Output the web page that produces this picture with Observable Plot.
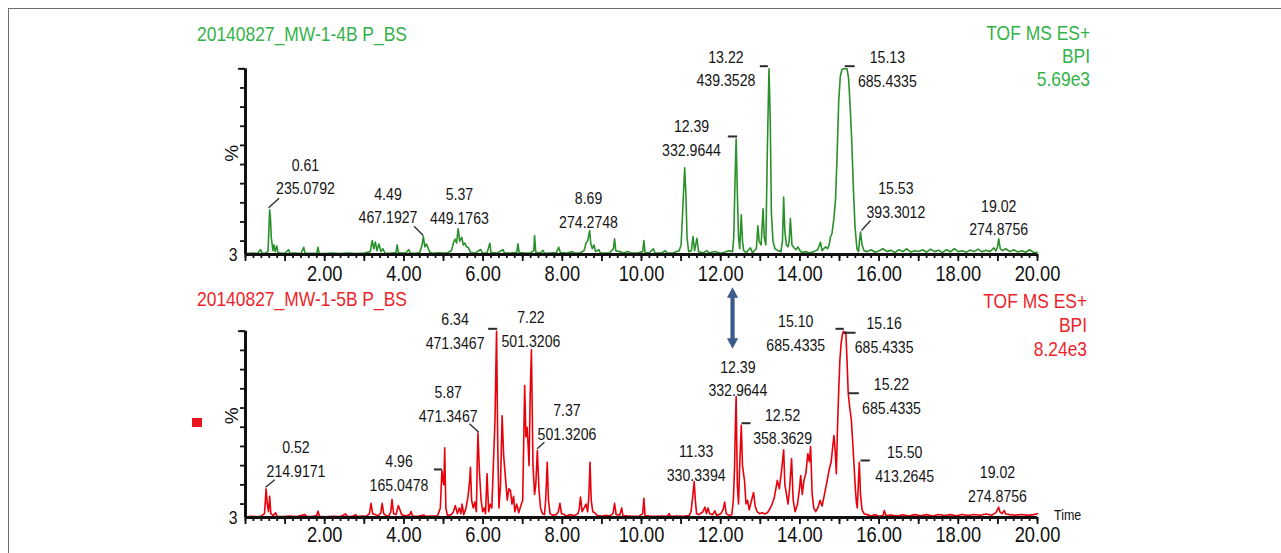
<!DOCTYPE html>
<html>
<head>
<meta charset="utf-8">
<script src="https://cdn.jsdelivr.net/npm/d3@7"></script>
<script src="https://cdn.jsdelivr.net/npm/@observablehq/plot@0.6"></script>
<style>
  html, body { margin: 0; padding: 0; background: #fff; }
  #wrap { position: relative; width: 1281px; height: 553px; overflow: hidden; background: #fff;
          font-family: "Liberation Sans", Arial, sans-serif; }
  .abs { position: absolute; white-space: nowrap; }
  .cl { transform: scaleX(0.83); transform-origin: left center; }
  .cr { transform: scaleX(0.83); transform-origin: right center; }
  #frame { position: absolute; left: 8px; top: 8px; width: 1400px; height: 700px;
           border-left: 1.5px solid #6e6e6e; border-top: 1.5px solid #6e6e6e; pointer-events: none; }
</style>
</head>
<body>
<div id="wrap">
  <div id="top" class="abs" style="left:0;top:0"></div>
  <div id="bot" class="abs" style="left:0;top:280px"></div>
  <div class="abs cl" style="left:197px;top:22px;font-size:21px;line-height:24px;color:#33b24a">20140827_MW-1-4B P_BS</div>
  <div class="abs cr" style="right:191px;top:20.8px;font-size:21px;line-height:23.35px;color:#33b24a;text-align:right">TOF MS ES+<br>BPI<br>5.69e3</div>
  <div class="abs cl" style="left:197px;top:287px;font-size:21px;line-height:24px;color:#ee1f2a">20140827_MW-1-5B P_BS</div>
  <div class="abs cr" style="right:194px;top:288.7px;font-size:21px;line-height:24.25px;color:#ee1f2a;text-align:right">TOF MS ES+<br>BPI<br>8.24e3</div>
  <div class="abs" style="left:192px;top:418px;width:10px;height:9px;background:#e8141e"></div>
  <div class="abs cl" style="left:1054px;top:507.5px;font-size:15px;line-height:13px;color:#111">Time</div>
  <div id="frame"></div>
</div>
<script>
// ---------- DATA ----------
// Sample 1 (MW-1-4B) BPI trace: [retention time (min), relative intensity (%)]
const greenTrace = [
 [0.00,3.5],[0.20,3.8],[0.30,3.5],[0.38,5.6],[0.42,3.6],[0.50,3.8],[0.57,4.5],[0.61,26.4],[0.63,22],[0.65,12],
 [0.67,9],[0.69,5],[0.72,8],[0.75,4.5],[0.79,7.5],[0.82,4],[0.90,3.6],[1.00,3.8],[1.09,5.5],[1.12,3.6],
 [1.25,3.8],[1.40,3.5],[1.47,6.8],[1.50,3.8],[1.65,3.6],[1.80,3.8],[1.83,6.8],[1.86,3.6],[2.00,3.5],[2.20,3.8],
 [2.40,3.5],[2.60,3.7],[2.80,3.5],[3.00,3.8],[3.15,4.5],[3.20,10.3],[3.24,6],[3.28,9.5],[3.32,5],[3.37,8.5],
 [3.42,4.5],[3.47,6],[3.52,3.8],[3.65,3.6],[3.80,4],[3.83,8],[3.86,4],[3.95,3.7],[4.05,3.9],[4.12,5.5],
 [4.16,3.8],[4.30,3.6],[4.40,4],[4.46,8],[4.49,12.4],[4.53,7],[4.57,8.5],[4.62,6],[4.66,4],[4.75,3.6],
 [4.85,3.9],[5.00,3.7],[5.10,3.9],[5.20,5],[5.25,9],[5.29,11],[5.33,9],[5.37,16.4],[5.41,10],[5.46,12],
 [5.50,8],[5.54,9],[5.58,7],[5.63,6.5],[5.68,4.2],[5.80,3.7],[5.94,5.6],[5.98,3.8],[6.10,3.9],[6.17,8.9],
 [6.20,4],[6.35,3.7],[6.50,5.5],[6.54,3.8],[6.70,3.7],[6.85,4.2],[6.88,8.6],[6.91,4],[7.05,3.7],[7.20,3.9],
 [7.28,5],[7.30,12.9],[7.33,4.2],[7.45,3.8],[7.51,5.2],[7.55,3.6],[7.70,3.8],[7.85,4],[7.91,6.8],[7.95,4],
 [8.10,3.7],[8.25,4.5],[8.30,3.8],[8.45,3.9],[8.55,5],[8.60,9],[8.64,10],[8.69,15.5],[8.72,8.5],[8.76,6],
 [8.80,8],[8.84,4.5],[8.92,5.5],[8.96,3.8],[9.10,3.7],[9.20,3.9],[9.29,6],[9.32,11.2],[9.35,5],[9.45,4.5],
 [9.55,3.8],[9.65,4.6],[9.75,3.7],[9.90,3.8],[10.03,4.5],[10.06,10.3],[10.09,4],[10.20,3.9],[10.30,6],[10.34,3.8],
 [10.50,3.7],[10.60,5],[10.64,3.8],[10.80,3.9],[10.95,5],[11.00,8],[11.05,30],[11.09,48.3],[11.12,35],[11.15,12],
 [11.19,4.5],[11.26,5],[11.30,12.4],[11.34,5],[11.40,11.5],[11.44,4.5],[11.55,3.8],[11.65,5],[11.70,3.8],[11.85,4.6],
 [12.00,3.7],[12.10,4.2],[12.20,5],[12.30,4.5],[12.33,12],[12.36,40],[12.39,63.5],[12.42,35],[12.45,12],[12.48,6],
 [12.52,23.7],[12.55,10],[12.58,5],[12.65,4],[12.75,6.5],[12.80,4],[12.90,6],[12.94,18],[12.97,10],[13.02,8],
 [13.07,26.9],[13.10,12],[13.14,8],[13.18,60],[13.22,100],[13.25,75],[13.28,25],[13.32,10],[13.37,6],[13.45,5],
 [13.52,4.5],[13.56,10],[13.59,33],[13.62,15],[13.66,8],[13.70,7],[13.73,10],[13.76,21.8],[13.80,8],[13.85,6.5],
 [13.90,5.5],[13.95,7],[14.00,5],[14.05,4],[14.15,4.5],[14.25,3.8],[14.35,4.5],[14.45,5.5],[14.52,9.4],[14.56,5],
 [14.60,6],[14.65,7],[14.70,6],[14.74,8],[14.77,12],[14.81,14],[14.86,22],[14.90,32],[14.94,55],[14.98,83],
 [15.02,96],[15.06,99.5],[15.10,100],[15.15,100],[15.19,100],[15.23,95],[15.27,80],[15.31,62],[15.35,38],[15.39,18],
 [15.44,6],[15.48,4.5],[15.50,9],[15.53,14.7],[15.57,8],[15.62,5],[15.70,4.5],[15.80,5.5],[15.90,4.2],[16.00,5],
 [16.10,6],[16.20,4.5],[16.30,5.2],[16.40,4],[16.50,5.5],[16.60,4.5],[16.70,6],[16.80,4.3],[16.90,5],[17.00,4.6],
 [17.10,5.5],[17.20,4.2],[17.30,5.8],[17.40,4.5],[17.50,5.2],[17.60,4],[17.70,5.5],[17.80,4.4],[17.90,6],[18.00,4.5],
 [18.10,5],[18.20,4.2],[18.30,5.3],[18.40,4.5],[18.50,5.8],[18.60,4.4],[18.70,5.2],[18.80,4.5],[18.90,6.5],[18.95,4.8],
 [18.99,7],[19.02,11.2],[19.06,6],[19.12,5],[19.20,6],[19.30,4.5],[19.40,5.5],[19.50,4.3],[19.60,5],[19.70,4.2],
 [19.80,5.5],[19.90,4.2],[20.00,4]
];
// Sample 2 (MW-1-5B) BPI trace
const redTrace = [
 [0.00,3.3],[0.15,3.6],[0.30,3.4],[0.40,3.8],[0.48,5],[0.52,17.9],[0.55,10],[0.58,6],[0.61,14.1],[0.64,5],
 [0.70,4],[0.76,5.4],[0.80,3.6],[0.95,3.5],[1.10,3.7],[1.30,3.5],[1.50,4.5],[1.55,3.5],[1.70,3.6],[1.80,4],
 [1.83,6.3],[1.87,3.6],[2.00,3.4],[2.20,3.6],[2.40,3.5],[2.53,4.8],[2.57,3.5],[2.70,3.6],[2.78,4.5],[2.82,3.5],
 [2.95,3.7],[3.05,3.6],[3.13,5],[3.17,10.4],[3.21,5],[3.28,4.5],[3.35,3.8],[3.42,5.5],[3.45,10.4],[3.49,5],
 [3.55,4],[3.62,3.8],[3.67,6],[3.70,12.4],[3.74,5],[3.80,4.5],[3.86,9.2],[3.90,7],[3.94,4.5],[4.05,3.8],
 [4.15,4.5],[4.18,6.1],[4.22,3.7],[4.35,3.6],[4.50,4.3],[4.55,3.6],[4.70,3.7],[4.85,3.8],[4.92,8],[4.96,27.5],
 [4.99,22],[5.01,20],[5.03,39.3],[5.06,8],[5.10,4],[5.20,4.5],[5.25,6],[5.30,9.2],[5.35,5],[5.40,8],
 [5.44,5],[5.47,10],[5.51,4.5],[5.57,8],[5.62,14],[5.66,22],[5.68,29.2],[5.71,12],[5.75,8],[5.79,11],
 [5.83,6],[5.85,30],[5.87,47],[5.91,25.8],[5.95,12],[5.99,6],[6.03,8],[6.06,5],[6.10,25.7],[6.14,6],
 [6.18,10],[6.22,8],[6.25,25],[6.30,53.5],[6.34,100],[6.37,40],[6.40,8],[6.44,20],[6.48,56],[6.52,35],
 [6.57,22.3],[6.61,12],[6.65,18],[6.69,17],[6.73,10],[6.77,14],[6.80,6],[6.85,10],[6.90,5.5],[6.95,9],
 [7.00,12],[7.05,71.7],[7.08,45],[7.11,50],[7.14,39.6],[7.16,30],[7.19,67.4],[7.22,90.3],[7.26,30],[7.30,15],
 [7.33,20],[7.37,37.9],[7.41,18],[7.45,8],[7.50,5],[7.55,4.5],[7.58,12],[7.62,31.8],[7.65,12],[7.69,5],
 [7.75,4.2],[7.85,4.5],[7.90,6],[7.94,10.4],[7.98,5],[8.05,4.5],[8.10,3.8],[8.20,4.5],[8.30,3.9],[8.40,5],
 [8.43,8],[8.46,13.6],[8.50,6],[8.55,8],[8.60,10],[8.64,6],[8.67,14],[8.70,31.8],[8.73,12],[8.77,6],
 [8.82,5.5],[8.88,4],[9.00,3.7],[9.10,4.2],[9.20,3.8],[9.28,5],[9.32,10.4],[9.36,4.5],[9.45,4.3],[9.50,8],
 [9.53,4],[9.65,3.8],[9.80,3.6],[9.95,3.8],[10.03,5],[10.06,13],[10.09,4],[10.20,3.7],[10.35,3.6],[10.50,3.8],
 [10.65,3.6],[10.70,5],[10.74,3.6],[10.90,3.8],[11.05,3.6],[11.20,4],[11.25,6],[11.30,15],[11.33,21.7],[11.36,12],
 [11.39,5],[11.45,4.5],[11.55,6],[11.60,8.4],[11.64,5],[11.68,8],[11.72,5],[11.80,4.5],[11.85,6.5],[11.90,4],
 [12.00,5],[12.06,7],[12.10,11],[12.14,5],[12.22,4],[12.28,4.5],[12.32,12],[12.35,29.2],[12.37,50],[12.39,66],
 [12.42,20],[12.45,10],[12.48,30],[12.52,51],[12.55,30],[12.60,22.3],[12.64,10],[12.68,11.9],[12.72,7],[12.78,12],
 [12.83,16],[12.87,9],[12.92,6],[12.98,5],[13.05,5.5],[13.12,4.8],[13.20,6],[13.28,9],[13.35,13],[13.43,22.3],
 [13.48,18],[13.54,28],[13.59,38.2],[13.62,20],[13.66,15.3],[13.70,10],[13.74,18],[13.79,33.6],[13.83,12],[13.88,6],
 [13.94,10],[13.99,18],[14.02,24.9],[14.06,15],[14.10,22],[14.15,26],[14.20,36.2],[14.24,32],[14.27,40],[14.31,15],
 [14.35,8],[14.40,6],[14.45,8],[14.51,11.9],[14.56,9],[14.62,15],[14.69,22.3],[14.74,28],[14.79,32],[14.83,40],
 [14.86,45.7],[14.89,38],[14.92,25.8],[14.95,50],[14.98,69],[15.01,85],[15.04,93.4],[15.07,98],[15.10,100],[15.13,99],
 [15.16,99.5],[15.19,84.8],[15.22,67.7],[15.26,60],[15.30,53.5],[15.34,40],[15.37,29.2],[15.40,18],[15.43,10.1],[15.45,8],
 [15.47,18],[15.50,31.8],[15.53,15],[15.57,7],[15.62,5],[15.70,4.5],[15.80,3.8],[15.90,4.5],[16.00,3.6],[16.10,4],
 [16.13,6.6],[16.17,4],[16.30,4.3],[16.45,3.8],[16.60,4.4],[16.75,3.8],[16.90,4.5],[17.05,3.9],[17.20,4.5],[17.35,3.8],
 [17.50,4.6],[17.65,4],[17.80,4.5],[17.95,3.9],[18.10,4.6],[18.25,4],[18.40,4.6],[18.55,4.2],[18.70,4.8],[18.85,4.2],
 [18.95,5.5],[19.02,8.4],[19.05,6],[19.10,5],[19.16,6.6],[19.20,4.8],[19.30,4.5],[19.45,4.2],[19.60,4.6],[19.75,4.1],
 [19.90,4.5],[20.00,5]
];
// Peak annotations
const greenPeakRT = [0.61, 4.49, 5.37, 8.69, 12.39, 13.22, 15.13, 15.53, 19.02];
const greenPeakMZ = ["235.0792","467.1927","449.1763","274.2748","332.9644","439.3528","685.4335","393.3012","274.8756"];
const greenPeakHeight = [26.4, 12.4, 16.4, 15.5, 63.5, 100, 100, 14.7, 11.2];
const redPeakRT = [0.52, 4.96, 5.87, 6.34, 7.22, 7.37, 11.33, 12.39, 12.52, 15.10, 15.16, 15.22, 15.50, 19.02];
const redPeakMZ = ["214.9171","165.0478","471.3467","471.3467","501.3206","501.3206","330.3394","332.9644","358.3629","685.4335","685.4335","685.4335","413.2645","274.8756"];
const redPeakHeight = [17.9, 27.5, 47, 100, 90.3, 37.9, 21.7, 66, 51, 100, 99.5, 67.7, 31.8, 8.4];
// Axis tick labels
const xTickLabels = [2, 4, 6, 8, 10, 12, 14, 16, 18, 20];
const yTickValues = [10, 20, 30, 40, 50, 60, 70, 80, 90, 100];
const yMinLabel = [3];

// ---------- LAYOUT (pixel offsets of labels from their peaks) ----------
const greenLayout = [
 {dx:35.8, dy:-34.9, lead:{sx:-1, sy:-2, rot:48, len:14, w:1.3}},
 {dx:-35.3, dy:-32.6, lead:{sx:0, sy:-1, rot:-45, len:13, w:1.3}},
 {dx:1.3, dy:-24.8},
 {dx:-1.1, dy:-22.3},
 {dx:-44.6, dy:-2, lead:{sx:1, sy:-2.2, rot:-90, len:9.3, w:2}},
 {dx:-43.1, dy:-1.9, lead:{sx:-1.2, sy:-2.6, rot:-90, len:8, w:2}},
 {dx:42.7, dy:-1.5, lead:{sx:0, sy:-2.6, rot:90, len:10, w:2}},
 {dx:35.4, dy:-33.4, lead:{sx:1, sy:-1.6, rot:42, len:13.5, w:1.3}},
 {dx:0, dy:-23}
];
const redLayout = [
 {dx:29.9, dy:-31.4, lead:{sx:-0.6, sy:-1.7, rot:51.5, len:11.9, w:1.3}},
 {dx:-42.9, dy:0.8, lead:{sx:0, sy:-1, rot:-90, len:8, w:2}},
 {dx:-29.8, dy:-30.4, lead:{sx:0.8, sy:-0.8, rot:-48, len:12.5, w:1.3}},
 {dx:-41.5, dy:-1.5, lead:{sx:0.6, sy:-2.4, rot:-90, len:9, w:2}},
 {dx:-0.5, dy:-22.8},
 {dx:29.6, dy:-30.1, lead:{sx:-0.2, sy:-1.7, rot:48, len:9.8, w:1.3}},
 {dx:2, dy:-20.6},
 {dx:1.7, dy:-19.6},
 {dx:41.3, dy:-0.5, lead:{sx:0.2, sy:-2.1, rot:90, len:9, w:2}},
 {dx:-47.7, dy:-0.2, lead:{sx:0.3, sy:-2.4, rot:-90, len:8.3, w:2}},
 {dx:38.3, dy:1.2, lead:{sx:-2, sy:0.6, rot:90, len:11.7, w:2}},
 {dx:43.3, dy:0.9, lead:{sx:0, sy:0, rot:90, len:10.6, w:2}},
 {dx:45.4, dy:0, lead:{sx:1.2, sy:-1.7, rot:90, len:9.3, w:2}},
 {dx:-1.2, dy:-24.7}
];

const FONT = '"Liberation Sans", Arial, sans-serif';
const CONDENSE = 0.83;
const minorTicks = d3.range(0, 100.5, 1).map(i => i / 5);   // every 0.2 min
const majorTicks = d3.range(0, 21, 1);                        // every 1 min

const stick = {draw(ctx, l) { ctx.moveTo(0, 0); ctx.lineTo(0, -l); }};
const doubleArrow = {draw(ctx, l) {
  const hw = 5.6, sw = 2.1, hl = 10.5;
  ctx.moveTo(0, 0); ctx.lineTo(hw, -hl); ctx.lineTo(sw, -hl); ctx.lineTo(sw, -l + hl);
  ctx.lineTo(hw, -l + hl); ctx.lineTo(0, -l); ctx.lineTo(-hw, -l + hl); ctx.lineTo(-sw, -l + hl);
  ctx.lineTo(-sw, -hl); ctx.lineTo(-hw, -hl); ctx.closePath();
}};

function panel({trace, rts, mzs, hs, layout, color, height, marginTop, marginBottom, tickPad, extra = []}) {
  const data = trace.map(([t, v]) => ({t, v}));
  const peaks = rts.map((rt, i) => ({rt, mz: mzs[i], h: hs[i], ...layout[i]}));
  const labelMarks = peaks.flatMap(p => {
    const m = [Plot.text([p], {x: "rt", y: "h", text: d => d.rt.toFixed(2) + "\n" + d.mz,
      dx: p.dx, dy: p.dy, fontSize: 17, lineHeight: 1.4, fill: "#151515"})];
    if (p.lead) m.push(Plot.vector([p], {x: "rt", y: "h", dx: p.lead.sx, dy: p.lead.sy,
      rotate: p.lead.rot, length: p.lead.len, anchor: "start", shape: stick,
      stroke: "#2a2a2a", strokeWidth: p.lead.w, strokeLinecap: "butt"}));
    return m;
  });
  return Plot.plot({
    width: 1281, height, marginLeft: 245, marginRight: 244, marginTop, marginBottom,
    x: {domain: [0, 20], label: null},
    y: {domain: [3, 100], label: null},
    style: {fontFamily: FONT, background: "none", overflow: "visible", color: "#111"},
    marks: [
      Plot.line(data, {x: "t", y: "v", stroke: color, strokeWidth: 1.6, strokeLinejoin: "round"}),
      Plot.axisX({ticks: minorTicks, tickSize: 4, strokeWidth: 1.8, tickFormat: () => "", label: null}),
      Plot.axisX({ticks: majorTicks, tickSize: 7, strokeWidth: 1.8, tickFormat: () => "", label: null}),
      Plot.axisX({ticks: xTickLabels, tickSize: 0, tickPadding: tickPad, fontSize: 22,
        tickFormat: d => d.toFixed(2), label: null}),
      Plot.axisY({ticks: yTickValues, tickSize: 5, strokeWidth: 1.8, tickFormat: () => "", label: null}),
      Plot.axisY({ticks: [100], tickSize: 7, strokeWidth: 1.8, tickFormat: () => "", label: null}),
      Plot.axisY({ticks: yMinLabel, tickSize: 0, tickPadding: 8, fontSize: 19,
        tickFormat: d => String(d), label: null}),
      Plot.ruleX([0], {y1: 3, y2: 100, strokeWidth: 3, stroke: "#111"}),
      Plot.ruleY([3], {x1: 0, x2: 20, strokeWidth: 3, stroke: "#111"}),
      Plot.text(["%"], {frameAnchor: "left", dx: -14, rotate: -90, fontSize: 19, fill: "#111"}),
      ...labelMarks,
      ...extra
    ]
  });
}

// make the SVG text narrow (like the condensed font of the original)
function condense(svg, k) {
  svg.querySelectorAll("text").forEach(t => {
    const tr = t.getAttribute("transform") || "";
    if (tr.includes("rotate")) return;
    const spans = t.querySelectorAll("tspan");
    const targets = spans.length ? Array.from(spans) : [t];
    targets.forEach(el => {
      const w = el.getComputedTextLength();
      if (w > 0) {
        el.setAttribute("textLength", (w * k).toFixed(2));
        el.setAttribute("lengthAdjust", "spacingAndGlyphs");
      }
    });
  });
}

const topSvg = panel({
  trace: greenTrace, rts: greenPeakRT, mzs: greenPeakMZ, hs: greenPeakHeight, layout: greenLayout,
  color: "#2a902a", height: 280, marginTop: 68.3, marginBottom: 26, tickPad: 11
});
document.getElementById("top").appendChild(topSvg);
condense(topSvg, CONDENSE);

// blue double arrow pointing at the 12.39 peak of the second sample
const arrowPeak = [{rt: redPeakRT[7], h: redPeakHeight[7]}];
const botSvg = panel({
  trace: redTrace, rts: redPeakRT, mzs: redPeakMZ, hs: redPeakHeight, layout: redLayout,
  color: "#e8000b", height: 273, marginTop: 50.7, marginBottom: 36, tickPad: 9,
  extra: [Plot.vector(arrowPeak, {x: "rt", y: "h", dx: -3.6, dy: -47.7, length: 61.6, anchor: "start",
    shape: doubleArrow, fill: "#3b5b8d", stroke: "none"})]
});
document.getElementById("bot").appendChild(botSvg);
condense(botSvg, CONDENSE);
</script>
</body>
</html>
